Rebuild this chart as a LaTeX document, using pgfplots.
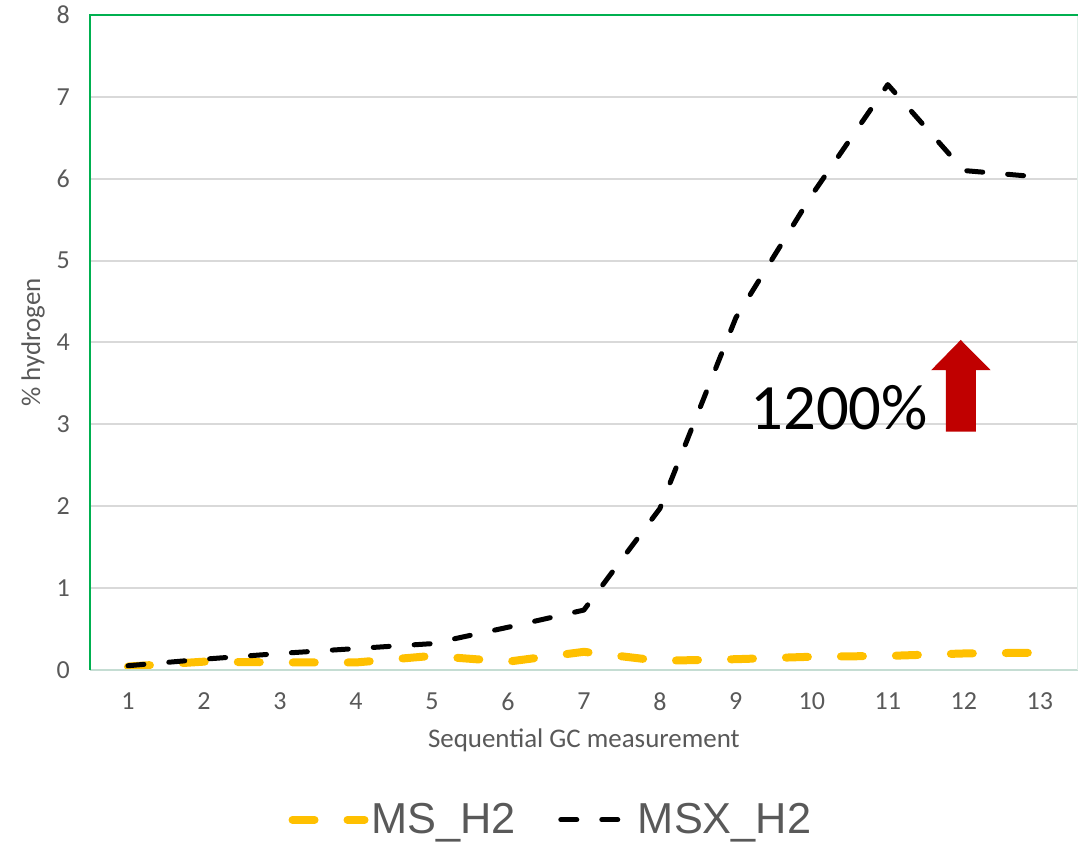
\documentclass[border=0pt]{standalone}
\usepackage{fontspec}
\setmainfont{Carlito}
\newfontfamily\arialfont{Liberation Sans}
\usepackage{pgfplots}
\pgfplotsset{compat=1.18}
\definecolor{msyellow}{HTML}{FFC000}
\definecolor{axgreen}{HTML}{00B050}
\definecolor{txtgray}{HTML}{595959}
\definecolor{gridgray}{HTML}{D9D9D9}
\definecolor{arrowred}{HTML}{C00000}
\definecolor{lightax}{HTML}{C5DDD3}
\begin{document}
\begin{tikzpicture}
\begin{axis}[name=ax, at={(0,0)}, anchor=south west,
  scale only axis, width=741pt, height=491.25pt,
  xmin=0.5, xmax=13.5, ymin=0, ymax=8,
  xtick={1,...,13}, ytick={0,...,8},
  major tick length=0pt,
  axis line style={draw=none},
  ymajorgrids, grid style={gridgray, line width=1.5pt},
  /pgf/number format/assume math mode=true,
  tick label style={font=\fontsize{19.5}{23}\selectfont, text=txtgray},
  xticklabel style={inner sep=0pt, anchor=north, yshift=-17pt},
  yticklabel style={inner sep=0pt, anchor=east, xshift=-15pt},
  label style={font=\fontsize{20.2}{24}\selectfont, text=txtgray},
  xlabel={Sequential GC measurement},
  ylabel={\% hydrogen},
  xlabel style={at={(axis description cs:0.5,-0.1084)}, anchor=center},
  ylabel style={at={(axis description cs:-0.0577,0.5)}, anchor=center},
  clip=false,
  legend columns=2,
  legend style={at={(axis description cs:0.467,-0.229)}, anchor=center, draw=none, fill=none,
    font=\arialfont\fontsize{32.5}{36}\selectfont, text=txtgray,
    /tikz/every even column/.append style={column sep=30pt}},
  legend image code/.code={\draw[#1] (0pt,0pt) -- (54pt,0pt);},
]
\addplot[msyellow, line width=6pt, dash pattern=on 16.5pt off 24.75pt, line cap=round, line join=round]
  coordinates {(1,0.04) (2,0.1) (3,0.09) (4,0.09) (5,0.17) (6,0.1) (7,0.22) (8,0.11) (9,0.13) (10,0.16) (11,0.17) (12,0.2) (13,0.21)};
\addlegendentry{MS\_H2}
\addplot[black, line width=3.75pt, dash pattern=on 12pt off 18.75pt, line cap=round, line join=round]
  coordinates {(1,0.05) (2,0.13) (3,0.2) (4,0.26) (5,0.32) (6,0.52) (7,0.73) (8,1.97) (9,4.3) (10,5.8) (11,7.15) (12,6.1) (13,6.02)};
\addlegendentry{MSX\_H2}
\draw[lightax, line width=1.5pt] (rel axis cs:0,0) -- (rel axis cs:1,0);
\draw[lightax!50, line width=1pt] (rel axis cs:1,0) -- (rel axis cs:1,1);
\draw[axgreen, line width=1.9pt] (rel axis cs:0,0) -- (rel axis cs:0,1) -- (rel axis cs:1,1);
\fill[arrowred] (axis cs:11.764,2.91) -- (axis cs:11.764,3.66) -- (axis cs:11.57,3.66) -- (axis cs:11.96,4.03)
  -- (axis cs:12.355,3.66) -- (axis cs:12.158,3.66) -- (axis cs:12.158,2.91) -- cycle;
\node[anchor=base, inner sep=0pt, font=\fontsize{48.5}{52}\selectfont, text=black] at (axis cs:10.36,2.93) {1200\%};
\end{axis}
\path[use as bounding box] (ax.south west) ++(-67.5pt,-129.75pt) rectangle ++(809.25pt,632.25pt);
\end{tikzpicture}
\end{document}
